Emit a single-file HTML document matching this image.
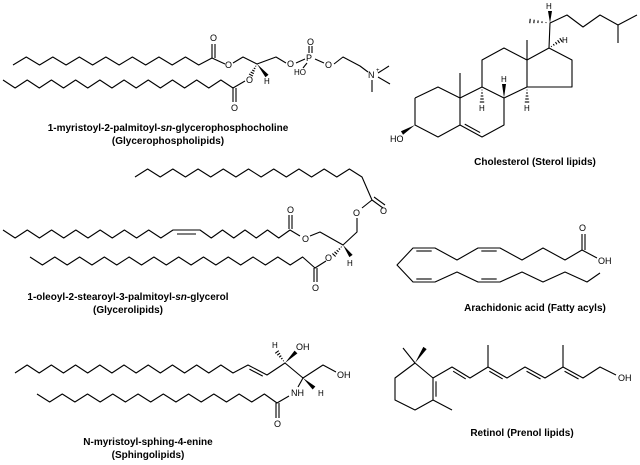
<!DOCTYPE html>
<html><head><meta charset="utf-8"><style>
html,body{margin:0;padding:0;background:#fff;width:640px;height:465px;overflow:hidden}
svg{display:block}
text{font-family:"Liberation Sans",sans-serif;fill:#000}
.a{font-size:9px}
.c{font-size:10px;font-weight:bold;text-anchor:middle}
</style></head><body>
<svg id="s" width="640" height="465" viewBox="0 0 640 465" xmlns="http://www.w3.org/2000/svg">
<g id="g" fill="none" stroke="#000" stroke-width="1.1" stroke-linejoin="round"></g>
<g id="w" fill="#000" stroke="none"></g>
<!-- captions -->
<text class="c" x="168" y="131">1-myristoyl-2-palmitoyl-<tspan font-style="italic">sn</tspan>-glycerophosphocholine</text>
<text class="c" x="168" y="144">(Glycerophospholipids)</text>
<text class="c" x="535" y="165">Cholesterol (Sterol lipids)</text>
<text class="c" x="128" y="300">1-oleoyl-2-stearoyl-3-palmitoyl-<tspan font-style="italic">sn</tspan>-glycerol</text>
<text class="c" x="128" y="313">(Glycerolipids)</text>
<text class="c" x="535" y="311">Arachidonic acid (Fatty acyls)</text>
<text class="c" x="148" y="445">N-myristoyl-sphing-4-enine</text>
<text class="c" x="148" y="458">(Sphingolipids)</text>
<text class="c" x="522" y="436">Retinol (Prenol lipids)</text>
<!-- atom labels -->
<g class="a">
<text x="210" y="41">O</text><text x="225" y="68">O</text><text x="264" y="84" font-size="8">H</text>
<text x="246" y="83">O</text><text x="231" y="111">O</text>
<text x="287" y="67">O</text><text x="306" y="61">P</text><text x="307" y="45">O</text><text x="294" y="75" font-size="8">HO</text>
<text x="325" y="68">O</text><text x="368" y="78">N</text><text x="376" y="72" font-size="6">+</text>
<text x="390" y="142">HO</text><text x="479" y="111" font-size="8">H</text><text x="501" y="82" font-size="8">H</text><text x="524" y="111" font-size="8">H</text>
<text x="546" y="9" font-size="8">H</text><text x="562" y="43" font-size="8">H</text>
<text x="380" y="214">O</text><text x="353" y="216">O</text><text x="287" y="213">O</text><text x="302" y="242">O</text>
<text x="325" y="261">O</text><text x="347" y="266" font-size="8">H</text><text x="312" y="291">O</text>
<text x="579" y="231">O</text><text x="598" y="264">OH</text>
<text x="272" y="348" font-size="8">H</text><text x="296" y="350">OH</text><text x="337" y="378">OH</text>
<text x="291" y="396">NH</text><text x="318" y="396" font-size="8">H</text><text x="274" y="427">O</text>
<text x="618" y="381">OH</text>
</g>
</svg>
<script>
var g=document.getElementById('g'),w=document.getElementById('w'),NS='http://www.w3.org/2000/svg';
function P(pts){var e=document.createElementNS(NS,'polyline');e.setAttribute('points',pts.map(function(p){return p[0]+','+p[1]}).join(' '));g.appendChild(e);}
function Lz(a,b,c,d){P([[a,b],[c,d]]);}
function zz(x0,ye,x1,yo,n){var r=[];for(var i=0;i<=n;i++)r.push([x0+(x1-x0)*i/n,i%2?yo:ye]);return r;}
function W(pts){var e=document.createElementNS(NS,'polygon');e.setAttribute('points',pts.map(function(p){return p[0]+','+p[1]}).join(' '));w.appendChild(e);}
function wedge(x1,y1,x2,y2){var dx=x2-x1,dy=y2-y1,l=Math.hypot(dx,dy),nx=-dy/l*2,ny=dx/l*2;W([[x1,y1],[x2+nx,y2+ny],[x2-nx,y2-ny]]);}
function hash(x1,y1,x2,y2){var dx=x2-x1,dy=y2-y1,l=Math.hypot(dx,dy),nx=-dy/l,ny=dx/l;for(var i=1;i<=5;i++){var t=i/5,s=t*2.2;Lz(x1+dx*t+nx*s,y1+dy*t+ny*s,x1+dx*t-nx*s,y1+dy*t-ny*s);}}
function dbl(x1,y1,x2,y2,o,sh){var dx=x2-x1,dy=y2-y1,l=Math.hypot(dx,dy),nx=-dy/l*o,ny=dx/l*o,s=sh||0.15;Lz(x1+dx*s+nx,y1+dy*s+ny,x2-dx*s+nx,y2-dy*s+ny);}
// Mol 1
var a=zz(13,65,212,57,15);a[15]=[212,58];a.push([225,64]);P(a);
Lz(212,58,212,44);Lz(215,58,215,44);
P([[233,63],[243,57],[257,64],[276,57],[286,63]]);
P([[296,63],[305,59]]);P([[315,59],[324,63]]);Lz(309,53,309,46);Lz(312,53,312,46);Lz(307,63,303,68);
P([[334,64],[343,57],[360,66],[368,72]]);
Lz(378,73,389,66);Lz(378,77,390,84);Lz(372,80,372,92);
wedge(257,64,267,76);hash(257,64,251,75);
var b=zz(3,80,233,88,19);b[19]=[233,88];b.push([245,81]);P(b);Lz(233,88,233,102);Lz(236,88,236,102);
// Cholesterol
P([[415,98],[438,87],[460,98],[460,125],[438,137],[415,125],[415,98]]);
P([[460,98],[482,87],[504,98],[504,125],[482,137],[460,125]]);dbl(460,125,482,137,-3);
P([[482,87],[482,60],[504,48],[527,60],[527,87],[504,98]]);
P([[527,60],[549,48],[572,60],[572,87],[527,87]]);
Lz(460,98,460,73);Lz(527,60,527,40);
wedge(415,125,402,133);
hash(482,87,482,102);wedge(504,98,504,84);hash(527,87,527,102);
P([[549,48],[550,23],[567,15],[583,27],[600,15],[618,25],[618,43]]);Lz(618,25,637,15);
wedge(550,23,550,11);hash(550,23,530,21);hash(549,48,561,40);
// Mol 2
var c=zz(135,177,362,169,18);c.push([372,200]);P(c);Lz(372,200,383,208);Lz(374,197,385,205);
P([[372,200],[362,208]]);P([[357,218],[357,232],[343,245],[320,232],[310,236]]);
var d=zz(3,230,173,238,14);d.push([200,230]);d=d.concat(zz(200,230,290,238,8).slice(1));d.push([300,236]);P(d);
Lz(177,234,196,234);Lz(289,229,289,215);Lz(292,229,292,215);
wedge(343,245,351,256);hash(343,245,334,255);
var e=zz(30,257,315,265,23);e[23]=[315,268];e.push([326,261]);P(e);Lz(314,268,314,282);Lz(317,268,317,282);
// Arachidonic
var ar=[[600,273],[587,282],[565,272],[543,282],[522,272],[500,282],[478,282],[457,272],[435,282],[413,282],[397,265],[413,248],[435,248],[457,260],[478,248],[500,248],[522,260],[543,248],[565,260],[582,250],[597,258]];
P(ar);Lz(582,250,582,234);Lz(585,250,585,234);
dbl(413,248,435,248,3);dbl(478,248,500,248,3);dbl(413,282,435,282,-3);dbl(478,282,500,282,-3);
// Sphingo
var f=zz(15,373,233,365,18);f[18]=[233,373];f.push([248,365],[267,375],[285,363],[303,378],[323,365],[336,372]);P(f);
dbl(248,365,267,375,3);
wedge(285,363,296,352);hash(285,363,277,352);
Lz(303,378,298,387);wedge(303,378,314,388);
var h=zz(37,394,277,402,19);h[19]=[277,403];h.push([289,396]);P(h);Lz(276,403,276,418);Lz(279,403,279,418);
// Retinol
P([[415,363],[433,378],[433,400],[415,410],[395,400],[395,378],[415,363]]);dbl(433,378,433,400,-3);
Lz(415,363,403,348);wedge(415,363,425,348);Lz(433,400,452,410);
P([[433,378],[452,367],[470,378],[488,367],[507,378],[525,367],[545,378],[563,367],[583,378],[600,367],[616,375]]);
Lz(488,367,488,345);Lz(563,367,563,345);
dbl(452,367,470,378,3);dbl(488,367,507,378,3);dbl(525,367,545,378,3);dbl(563,367,583,378,3);
</script>
</body></html>
